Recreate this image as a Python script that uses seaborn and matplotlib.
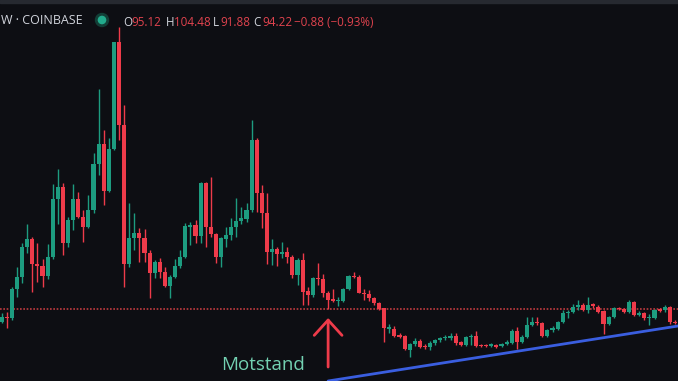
import numpy as np
import pandas as pd
import matplotlib
matplotlib.use("Agg")
import matplotlib.pyplot as plt
import seaborn as sns
from matplotlib.patches import Circle, Rectangle
from matplotlib.transforms import IdentityTransform

# ---------------- data (price units) ----------------
open_ = [59, 64, 63, 92, 104, 134, 142, 117, 115, 105, 124, 182, 194, 138, 161, 182, 164, 154, 171, 217,
         237, 190, 232, 339, 256, 117, 143, 148, 143, 128, 108, 119, 109, 95, 104, 115, 124, 154, 156, 145,
         198, 154, 147, 124, 142, 146, 154, 160, 162, 171, 241, 188, 168, 129, 132, 127, 129, 124, 106, 121,
         90, 86, 103, 102, 88, 82, 80, 80, 92, 105, 104, 88, 87, 83, 78, 73, 52, 52, 46, 45,
         31, 37, 40, 35, 34, 38, 41, 43, 43, 45, 39, 36, 44, 45, 36, 36, 35, 36, 35, 37,
         38, 50, 39, 44, 56, 59, 58, 45, 51, 52, 59, 68, 69, 74, 76, 71, 77, 74, 70, 57,
         64, 73, 72, 69, 79, 66, 68, 63, 63, 72, 71, 74, 59]
high = [68, 69, 94, 114, 138, 157, 144, 138, 122, 137, 197, 212, 198, 164, 197, 189, 171, 186, 228, 292,
        251, 243, 339, 354, 276, 178, 168, 153, 152, 131, 121, 123, 114, 106, 122, 131, 158, 159, 161, 199,
        199, 204, 148, 144, 154, 163, 183, 174, 178, 261, 243, 196, 188, 142, 134, 139, 134, 126, 123, 128,
        94, 104, 118, 107, 90, 92, 84, 93, 106, 109, 106, 92, 91, 84, 79, 73, 57, 55, 48, 46,
        38, 43, 42, 37, 40, 42, 44, 46, 48, 48, 40, 45, 47, 50, 37, 37, 38, 37, 38, 41,
        52, 54, 46, 64, 64, 64, 59, 52, 55, 60, 71, 71, 77, 81, 78, 84, 78, 76, 71, 65,
        74, 74, 73, 81, 80, 70, 69, 67, 72, 73, 76, 75, 61]
low = [58, 53, 61, 84, 98, 128, 89, 99, 94, 102, 122, 157, 126, 134, 151, 163, 139, 153, 168, 206,
       176, 189, 231, 241, 94, 114, 131, 119, 119, 83, 103, 103, 94, 83, 103, 113, 123, 136, 138, 138,
       134, 144, 118, 114, 134, 141, 144, 157, 159, 169, 169, 153, 117, 116, 115, 123, 118, 103, 96, 76,
       76, 84, 96, 84, 72, 79, 75, 79, 91, 103, 88, 81, 80, 76, 71, 39, 48, 44, 43, 31,
       24, 35, 33, 32, 31, 36, 39, 41, 41, 36, 35, 35, 36, 34, 34, 34, 34, 33, 34, 36,
       37, 32, 38, 43, 55, 56, 44, 44, 49, 51, 58, 63, 68, 71, 70, 68, 73, 68, 47, 56,
       63, 71, 68, 68, 65, 65, 61, 56, 62, 69, 69, 57, 57]
close = [64, 63, 92, 104, 134, 142, 117, 115, 105, 124, 182, 194, 138, 161, 182, 164, 154, 171, 217, 237,
         190, 232, 339, 256, 117, 143, 148, 143, 128, 108, 119, 109, 95, 104, 115, 124, 155, 156, 145, 198,
         154, 147, 124, 143, 146, 154, 160, 163, 171, 241, 188, 168, 129, 132, 127, 129, 124, 106, 121, 89,
         86, 103, 102, 88, 81, 80, 81, 92, 105, 104, 88, 87, 83, 78, 72, 53, 54, 45, 44, 32,
         37, 40, 34, 34, 38, 41, 43, 44, 45, 38, 36, 44, 45, 35, 35, 35, 37, 34, 37, 39,
         50, 39, 44, 56, 59, 58, 45, 51, 53, 59, 68, 69, 74, 76, 71, 76, 75, 69, 57, 64,
         73, 72, 69, 79, 66, 68, 63, 64, 71, 70, 74, 59, 58]

level_price = 72                    # horizontal resistance level
trend_idx = [64.0, 132.6]           # rising support line anchors (bar index)
trend_price = [0, 55]
arrow_idx = 64
arrow_from, arrow_to = 14, 63
label_idx, label_price = 51.3, 11
label_text = "Motstand"

symbol_text = "W \u00b7 COINBASE"
ohlc_letters = ["O", "H", "L", "C"]
ohlc_values = ["95.12", "104.48", "91.88", "94.22"]
change_text = "\u22120.88 (\u22120.93%)"

# ---------------- style ----------------
BG = "#0d0e13"
UP = "#1d9c80"
DOWN = "#ee3b4a"
TXT = "#d1d4dc"

sns.set_theme(style="dark", rc={"axes.facecolor": BG, "figure.facecolor": BG})
plt.rcParams["font.family"] = ["Open Sans", "DejaVu Sans"]

df = pd.DataFrame({"open": open_, "high": high, "low": low, "close": close})
df["idx"] = np.arange(len(df))
df["up"] = df["close"] >= df["open"]
df["color"] = np.where(df["up"], UP, DOWN)
df["body_lo"] = df[["open", "close"]].min(axis=1)
df["body_h"] = (df["close"] - df["open"]).abs().clip(lower=0.9)

fig = plt.figure(figsize=(6.78, 3.81), dpi=100)
ax = fig.add_axes([0, 0, 1, 1])
ax.set_facecolor(BG)

# horizontal resistance level
ax.axhline(level_price, color="#c23b40", lw=1.2, ls=(0, (1, 1)), zorder=1)

# wicks and bodies
ax.vlines(df["idx"], df["low"], df["high"], colors=df["color"], lw=1.0, zorder=2)
ax.bar(df["idx"], df["body_h"], bottom=df["body_lo"], width=0.8,
       color=df["color"], linewidth=0, zorder=3)

# rising trend line
sns.lineplot(x=trend_idx, y=trend_price, ax=ax, color="#3a5ee0", lw=2.0, zorder=4)

# arrow and label
ax.annotate("", xy=(arrow_idx, arrow_to), xytext=(arrow_idx, arrow_from),
            arrowprops=dict(arrowstyle="->,head_length=1.1,head_width=1.0",
                            mutation_scale=10, color=DOWN, lw=2.0,
                            shrinkA=0, shrinkB=0), zorder=5)
ax.text(label_idx, label_price, label_text, color="#73d1b2", fontsize=13.5,
        ha="center", va="baseline", zorder=5)

ax.set_xlim(-0.333, 132.6)
ax.set_ylim(0, 381)
ax.set_xticks([])
ax.set_yticks([])
for s in ax.spines.values():
    s.set_visible(False)

# header
W, H = 678, 381
fig.add_artist(Rectangle((0, 1 - 3 / H), 1, 3 / H, transform=fig.transFigure,
                         color="#262930", zorder=10))
fig.text(1 / W, 1 - 21 / H, symbol_text, color=TXT, fontsize=9.0,
         ha="left", va="center")
fig.add_artist(Circle((102, H - 20), 6.5, transform=IdentityTransform(),
                      color="#123f37", zorder=10))
fig.add_artist(Circle((102, H - 20), 3.6, transform=IdentityTransform(),
                      color="#22ab8c", zorder=11))
letter_x = [123, 166, 213, 253]
value_x = [131, 174, 220, 262]
for lx, vx, lt, vt in zip(letter_x, value_x, ohlc_letters, ohlc_values):
    fig.text(lx / W, 1 - 22 / H, lt, color=TXT, fontsize=8.4, ha="left", va="center")
    fig.text(vx / W, 1 - 22 / H, vt, color="#e0434e", fontsize=8.4, ha="left", va="center")
fig.text(294 / W, 1 - 22 / H, change_text, color="#e0434e", fontsize=8.4,
         ha="left", va="center")

fig.savefig("out.png", dpi=100, facecolor=BG)
